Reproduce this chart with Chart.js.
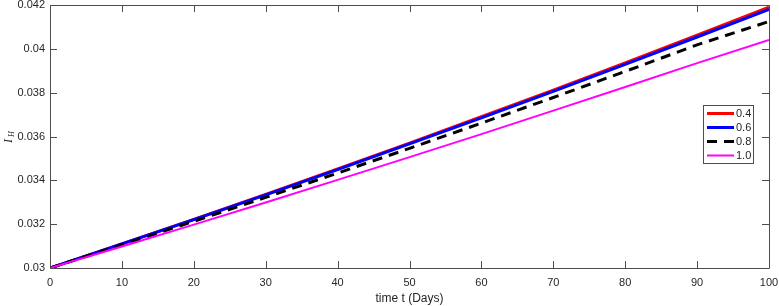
<!DOCTYPE html>
<html>
<head>
<meta charset="utf-8">
<script src="https://cdn.jsdelivr.net/npm/chart.js@4.4.0/dist/chart.umd.min.js"></script>
<style>
  html, body { margin: 0; padding: 0; background: #fff; }
</style>
</head>
<body>
<canvas id="chart_ih" width="779" height="306"></canvas>
<script>
// time in days
var days = [0, 10, 20, 30, 40, 50, 60, 70, 80, 90, 100];

// I_H for each fractional order
var ih_04 = [0.0300, 0.03110, 0.03222, 0.03336, 0.03452, 0.03570, 0.03690, 0.03812, 0.03936, 0.04062, 0.04190];
var ih_06 = [0.0300, 0.03110, 0.03221, 0.03334, 0.03449, 0.03566, 0.03685, 0.03806, 0.03929, 0.04054, 0.04180];
var ih_08 = [0.0300, 0.03106, 0.03213, 0.03322, 0.03433, 0.03546, 0.03661, 0.03778, 0.03897, 0.04018, 0.04125];
var ih_10 = [0.0300, 0.03098, 0.03198, 0.03299, 0.03402, 0.03506, 0.03611, 0.03718, 0.03826, 0.03935, 0.04040];

var seriesLabels = ['0.4', '0.6', '0.8', '1.0'];
var xTicks = [0, 10, 20, 30, 40, 50, 60, 70, 80, 90, 100];
var yTicks = [0.030, 0.032, 0.034, 0.036, 0.038, 0.040, 0.042];
var yTickLabels = ['0.03', '0.032', '0.034', '0.036', '0.038', '0.04', '0.042'];

function toPoints(arr) {
    return days.map(function(d, i) { return { x: d, y: arr[i] }; });
}

var axisColor = '#4d4d4d';
var textColor = '#262626';

var chart_ih = new Chart(document.getElementById('chart_ih'), {
    type: 'line',
    data: {
        datasets: [
            {
                label: seriesLabels[0],
                data: toPoints(ih_04),
                borderColor: '#ff0000',
                borderWidth: 3,
                pointRadius: 0,
                order: 4
            },
            {
                label: seriesLabels[1],
                data: toPoints(ih_06),
                borderColor: '#0000ff',
                borderWidth: 3,
                pointRadius: 0,
                order: 3
            },
            {
                label: seriesLabels[2],
                data: toPoints(ih_08),
                borderColor: '#000000',
                borderWidth: 3,
                borderDash: [10, 7],
                pointRadius: 0,
                order: 2
            },
            {
                label: seriesLabels[3],
                data: toPoints(ih_10),
                borderColor: '#ff00ff',
                borderWidth: 2,
                pointRadius: 0,
                order: 1
            }
        ]
    },
    options: {
        animation: false,
        responsive: false,
        devicePixelRatio: 1,
        layout: { padding: { left: 0, right: 10, top: 5, bottom: 0 } },
        plugins: {
            legend: { display: false },
            tooltip: { enabled: false }
        },
        scales: {
            x: {
                type: 'linear',
                min: 0,
                max: 100,
                afterBuildTicks: function(scale) {
                    scale.ticks = xTicks.map(function(v) { return { value: v }; });
                },
                afterFit: function(scale) {
                    scale.height = 38;
                    scale.paddingLeft = 0;
                    scale.paddingRight = 0;
                },
                grid: { display: false, drawTicks: false },
                border: { display: false },
                ticks: {
                    padding: 8,
                    maxRotation: 0,
                    color: textColor,
                    font: { family: 'Liberation Sans', size: 11 }
                },
                title: {
                    display: true,
                    text: 'time t (Days)',
                    color: textColor,
                    font: { family: 'Liberation Sans', size: 12 },
                    padding: { top: 0, bottom: 0 }
                }
            },
            y: {
                type: 'linear',
                min: 0.03,
                max: 0.042,
                afterBuildTicks: function(scale) {
                    scale.ticks = yTicks.map(function(v) { return { value: v }; });
                },
                afterFit: function(scale) {
                    scale.width = 50;
                    scale.paddingTop = 0;
                    scale.paddingBottom = 0;
                },
                grid: { display: false, drawTicks: false },
                border: { display: false },
                ticks: {
                    padding: 5,
                    color: textColor,
                    font: { family: 'Liberation Sans', size: 11 },
                    callback: function(value, index) { return yTickLabels[index]; }
                }
            }
        }
    },
    plugins: [{
        id: 'matlabFrame',
        beforeDraw: function(chart) {
            var ctx = chart.ctx;
            ctx.save();
            ctx.fillStyle = 'white';
            ctx.fillRect(0, 0, chart.width, chart.height);
            ctx.restore();
        },
        afterDraw: function(chart) {
            var ctx = chart.ctx;
            var a = chart.chartArea;
            var xs = chart.scales.x, ys = chart.scales.y;
            var tl = 7;
            ctx.save();
            ctx.strokeStyle = axisColor;
            ctx.lineWidth = 1;
            ctx.beginPath();
            ctx.rect(Math.round(a.left) + 0.5, Math.round(a.top) + 0.5,
                     Math.round(a.right - a.left), Math.round(a.bottom - a.top));
            xs.ticks.forEach(function(t) {
                var px = Math.round(xs.getPixelForValue(t.value)) + 0.5;
                ctx.moveTo(px, a.bottom); ctx.lineTo(px, a.bottom - tl);
                ctx.moveTo(px, a.top); ctx.lineTo(px, a.top + tl);
            });
            ys.ticks.forEach(function(t) {
                var py = Math.round(ys.getPixelForValue(t.value)) + 0.5;
                ctx.moveTo(a.left, py); ctx.lineTo(a.left + tl, py);
                ctx.moveTo(a.right, py); ctx.lineTo(a.right - tl, py);
            });
            ctx.stroke();

            // y axis title: italic I with subscript H
            ctx.fillStyle = textColor;
            ctx.translate(11.5, 143);
            ctx.rotate(-Math.PI / 2);
            ctx.textBaseline = 'alphabetic';
            ctx.font = 'italic 12px "Liberation Serif"';
            ctx.fillText('I', 0, 0);
            ctx.font = 'italic 8px "Liberation Serif"';
            ctx.fillText('H', 6, 2);
            ctx.setTransform(1, 0, 0, 1, 0, 0);

            // legend
            var bx = 703.5, by = 105.5, bw = 50, bh = 58;
            ctx.fillStyle = '#ffffff';
            ctx.fillRect(bx, by, bw, bh);
            ctx.strokeStyle = axisColor;
            ctx.lineWidth = 1;
            ctx.strokeRect(bx, by, bw, bh);
            ctx.font = '11px "Liberation Sans"';
            ctx.textBaseline = 'middle';
            chart.data.datasets.forEach(function(ds, i) {
                var ry = 113.5 + i * 14;
                ctx.beginPath();
                ctx.strokeStyle = ds.borderColor;
                ctx.lineWidth = ds.borderWidth;
                ctx.setLineDash(ds.borderDash || []);
                ctx.moveTo(707, ry);
                ctx.lineTo(734, ry);
                ctx.stroke();
                ctx.setLineDash([]);
                ctx.fillStyle = textColor;
                ctx.fillText(ds.label, 736, ry);
            });
            ctx.restore();
        }
    }]
});
</script>
</body>
</html>
